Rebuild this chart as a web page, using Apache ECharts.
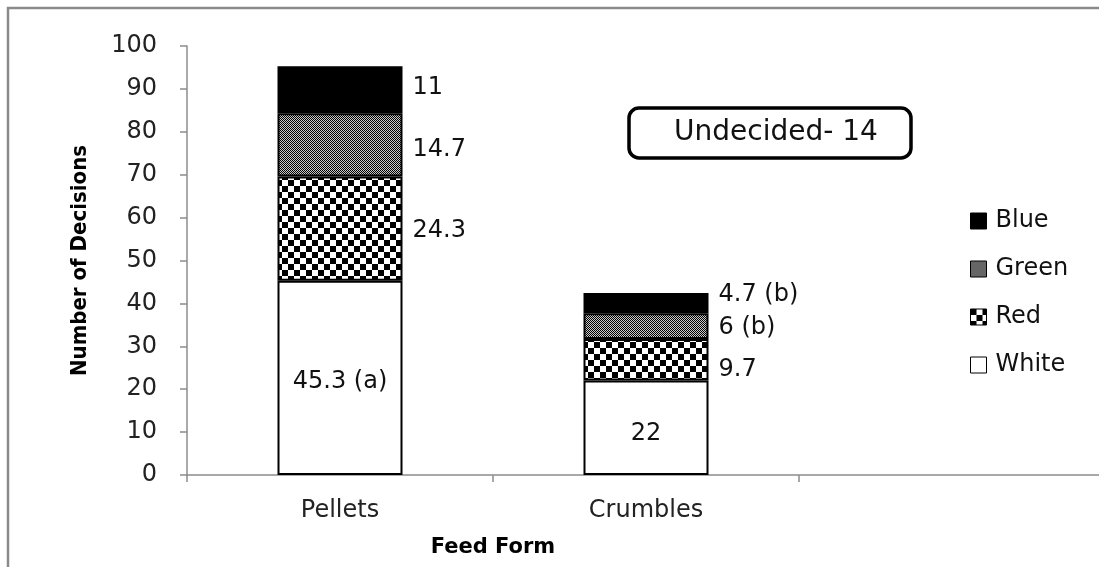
<!DOCTYPE html>
<html>
<head>
<meta charset="utf-8">
<script src="https://cdn.jsdelivr.net/npm/echarts@6/dist/echarts.min.js"></script>
<style>
html,body{margin:0;padding:0;background:#fff;overflow:hidden;}
#chart{width:1099px;height:567px;}
</style>
</head>
<body>
<div id="chart"></div>
<script>
// ---- data ----
const categories = ['Pellets', 'Crumbles', ''];
const seriesNames = ['White', 'Red', 'Green', 'Blue'];
const whiteValues = [45.3, 22, null];
const redValues = [24.3, 9.7, null];
const greenValues = [14.7, 6, null];
const blueValues = [11, 4.7, null];
const whiteLabels = ['45.3 (a)', '22'];
const redLabels = ['24.3', '9.7'];
const greenLabels = ['14.7', '6 (b)'];
const blueLabels = ['11', '4.7 (b)'];
const yMin = 0, yMax = 100, yInterval = 10;
const legendOrder = ['Blue', 'Green', 'Red', 'White'];
const noteText = 'Undecided- 14';
const xTitle = 'Feed Form';
const yTitle = 'Number of Decisions';

// ---- layout / style ----
const FONT = "'DejaVu Sans', 'Open Sans', sans-serif";
const labelOffsets = {
  White: [[0, 4], [0, 6]],
  Red: [[0, 2], [0, 10]],
  Green: [[0, 5], [0, 2]],
  Blue: [[0, -2], [0, -8]]
};

function checker(cell, c1, c2) {
  const cv = document.createElement('canvas');
  cv.width = cv.height = cell * 2;
  const ctx = cv.getContext('2d');
  ctx.fillStyle = c2; ctx.fillRect(0, 0, cell * 2, cell * 2);
  ctx.fillStyle = c1;
  ctx.fillRect(0, 0, cell, cell);
  ctx.fillRect(cell, cell, cell, cell);
  return cv;
}
const fills = {
  White: '#ffffff',
  Red: { image: checker(6, '#000000', '#ffffff'), repeat: 'repeat' },
  Green: { image: checker(1, '#000000', '#cccccc'), repeat: 'repeat' },
  Blue: '#000000'
};
const valuesBy = { White: whiteValues, Red: redValues, Green: greenValues, Blue: blueValues };
const labelsBy = { White: whiteLabels, Red: redLabels, Green: greenLabels, Blue: blueLabels };

const series = seriesNames.map(name => ({
  name: name,
  type: 'bar',
  stack: 'total',
  barWidth: 125,
  itemStyle: { color: fills[name], borderColor: '#000', borderWidth: 2 },
  data: valuesBy[name].map((v, i) => {
    if (v === null) return '-';
    return {
      value: v,
      label: {
        show: true,
        formatter: labelsBy[name][i],
        position: name === 'White' ? 'inside' : 'right',
        distance: 10,
        offset: labelOffsets[name][i],
        color: '#111',
        fontSize: 24,
        fontFamily: FONT
      }
    };
  })
}));

const chart = echarts.init(document.getElementById('chart'), null, { renderer: 'canvas' });
chart.setOption({
  backgroundColor: '#ffffff',
  animation: false,
  grid: { left: 187, top: 46, right: -6, bottom: 92, outerBoundsMode: 'none', containLabel: false },
  xAxis: {
    type: 'category',
    data: categories,
    axisLine: { lineStyle: { color: '#8c8c8c', width: 1.5 } },
    axisTick: { show: true, length: 7, interval: 0, lineStyle: { color: '#8c8c8c', width: 1.5 } },
    axisLabel: { fontSize: 24, color: '#222', margin: 24, fontFamily: FONT, interval: 0 }
  },
  yAxis: {
    type: 'value',
    min: yMin, max: yMax, interval: yInterval,
    name: yTitle,
    nameLocation: 'middle',
    nameGap: 96,
    nameTextStyle: { fontSize: 22, fontWeight: 'bold', color: '#000', fontFamily: "'Liberation Sans Narrow', 'DejaVu Sans Condensed', sans-serif" },
    axisLine: { show: true, lineStyle: { color: '#8c8c8c', width: 1.5 } },
    axisTick: { show: true, length: 7, lineStyle: { color: '#8c8c8c', width: 1.5 } },
    axisLabel: { fontSize: 24, color: '#222', margin: 30, fontFamily: FONT },
    splitLine: { show: false }
  },
  legend: {
    data: legendOrder,
    orient: 'vertical',
    left: 965,
    top: 204,
    icon: 'rect',
    itemWidth: 16,
    itemHeight: 16,
    itemGap: 24,
    itemStyle: { borderColor: '#000', borderWidth: 1 },
    textStyle: { fontSize: 24, color: '#111', fontFamily: FONT, padding: [0, 0, 0, 4] }
  },
  graphic: [
    {
      type: 'polyline',
      shape: { points: [[8, 600], [8, 8], [1110, 8]] },
      style: { fill: 'none', stroke: '#8a8a8a', lineWidth: 2.5 },
      silent: true
    },
    {
      type: 'rect',
      shape: { x: 629, y: 108, width: 282, height: 50, r: 10 },
      style: { fill: '#fff', stroke: '#000', lineWidth: 3.5 },
      z: 10
    },
    {
      type: 'text',
      x: 776, y: 133,
      style: { text: noteText, fontSize: 28, fill: '#111', fontFamily: FONT, align: 'center', verticalAlign: 'middle' },
      z: 11
    },
    {
      type: 'text',
      x: 493, y: 548,
      style: { text: xTitle, fontSize: 21, fontWeight: 'bold', fill: '#000', fontFamily: FONT, align: 'center', verticalAlign: 'middle' },
      z: 11
    }
  ],
  series: series
});
</script>
</body>
</html>
